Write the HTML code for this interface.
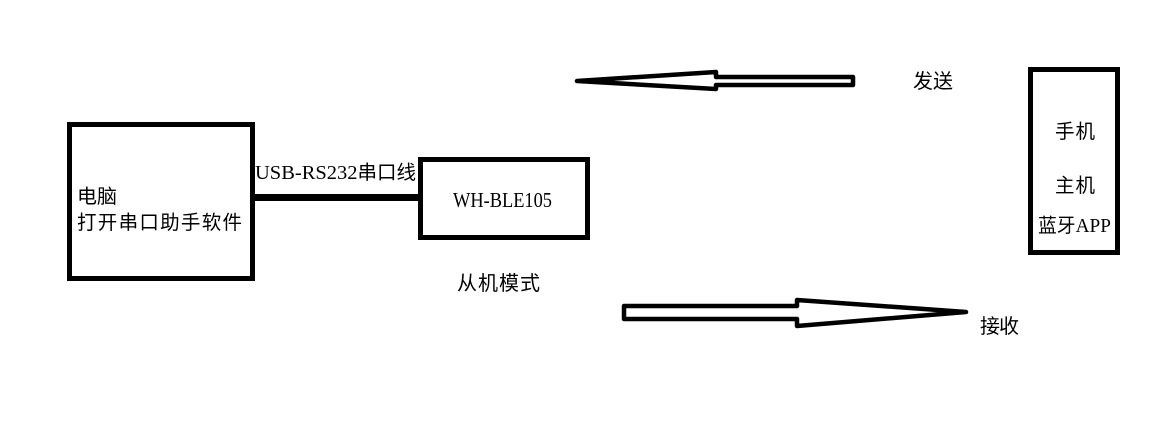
<!DOCTYPE html>
<html>
<head>
<meta charset="utf-8">
<style>
  html, body { margin:0; padding:0; background:#fff; }
  svg { display:block; }
  text { fill:#000; font-family:"Liberation Serif","Noto Sans CJK SC",serif; }
  .cjk { font-family:"Noto Sans CJK SC","WenQuanYi Zen Hei",sans-serif; }
</style>
</head>
<body>
<svg width="1176" height="445" viewBox="0 0 1176 445" xmlns="http://www.w3.org/2000/svg">
  <rect width="1176" height="445" fill="#fff"/>

  <!-- Box 1 -->
  <rect x="69.5" y="124.5" width="183" height="154" fill="none" stroke="#000" stroke-width="5"/>
  <text class="cjk" x="77" y="203" font-size="19.5" textLength="40" lengthAdjust="spacingAndGlyphs">电脑</text>
  <text class="cjk" x="77" y="229" font-size="19.5" textLength="165" lengthAdjust="spacing">打开串口助手软件</text>

  <!-- Connector line -->
  <rect x="253" y="194" width="167" height="7" fill="#000"/>
  <text x="255" y="179" font-size="20.5" textLength="161" lengthAdjust="spacingAndGlyphs">USB-RS232<tspan class="cjk" font-size="19.5">串口线</tspan></text>

  <!-- Box 2 -->
  <rect x="420.5" y="159.5" width="167" height="78" fill="none" stroke="#000" stroke-width="5"/>
  <text x="453" y="207" font-size="21" textLength="99" lengthAdjust="spacingAndGlyphs">WH-BLE105</text>

  <text class="cjk" x="457" y="290" font-size="20" textLength="83" lengthAdjust="spacing">从机模式</text>

  <!-- Top arrow (pointing left) -->
  <path d="M853,77 L716,77 L716,72 L577,81 L716,89 L716,85 L853,85 Z" fill="none" stroke="#000" stroke-width="4.5" stroke-linejoin="round"/>
  <text class="cjk" x="913" y="88" font-size="20" textLength="40" lengthAdjust="spacing">发送</text>

  <!-- Bottom arrow (pointing right) -->
  <path d="M624,306 L797,306 L797,300 L966,312 L797,326 L797,319 L624,319 Z" fill="none" stroke="#000" stroke-width="4.5" stroke-linejoin="round"/>
  <text class="cjk" x="980" y="333" font-size="20" textLength="39" lengthAdjust="spacing">接收</text>

  <!-- Phone box -->
  <rect x="1030.5" y="69.5" width="87" height="183" fill="none" stroke="#000" stroke-width="5"/>
  <text class="cjk" x="1055" y="138" font-size="19.5" textLength="40" lengthAdjust="spacing">手机</text>
  <text class="cjk" x="1055" y="192" font-size="19.5" textLength="40" lengthAdjust="spacing">主机</text>
  <text x="1038" y="232" font-size="20" textLength="73" lengthAdjust="spacingAndGlyphs"><tspan class="cjk" font-size="19.5">蓝牙</tspan>APP</text>
</svg>
</body>
</html>
